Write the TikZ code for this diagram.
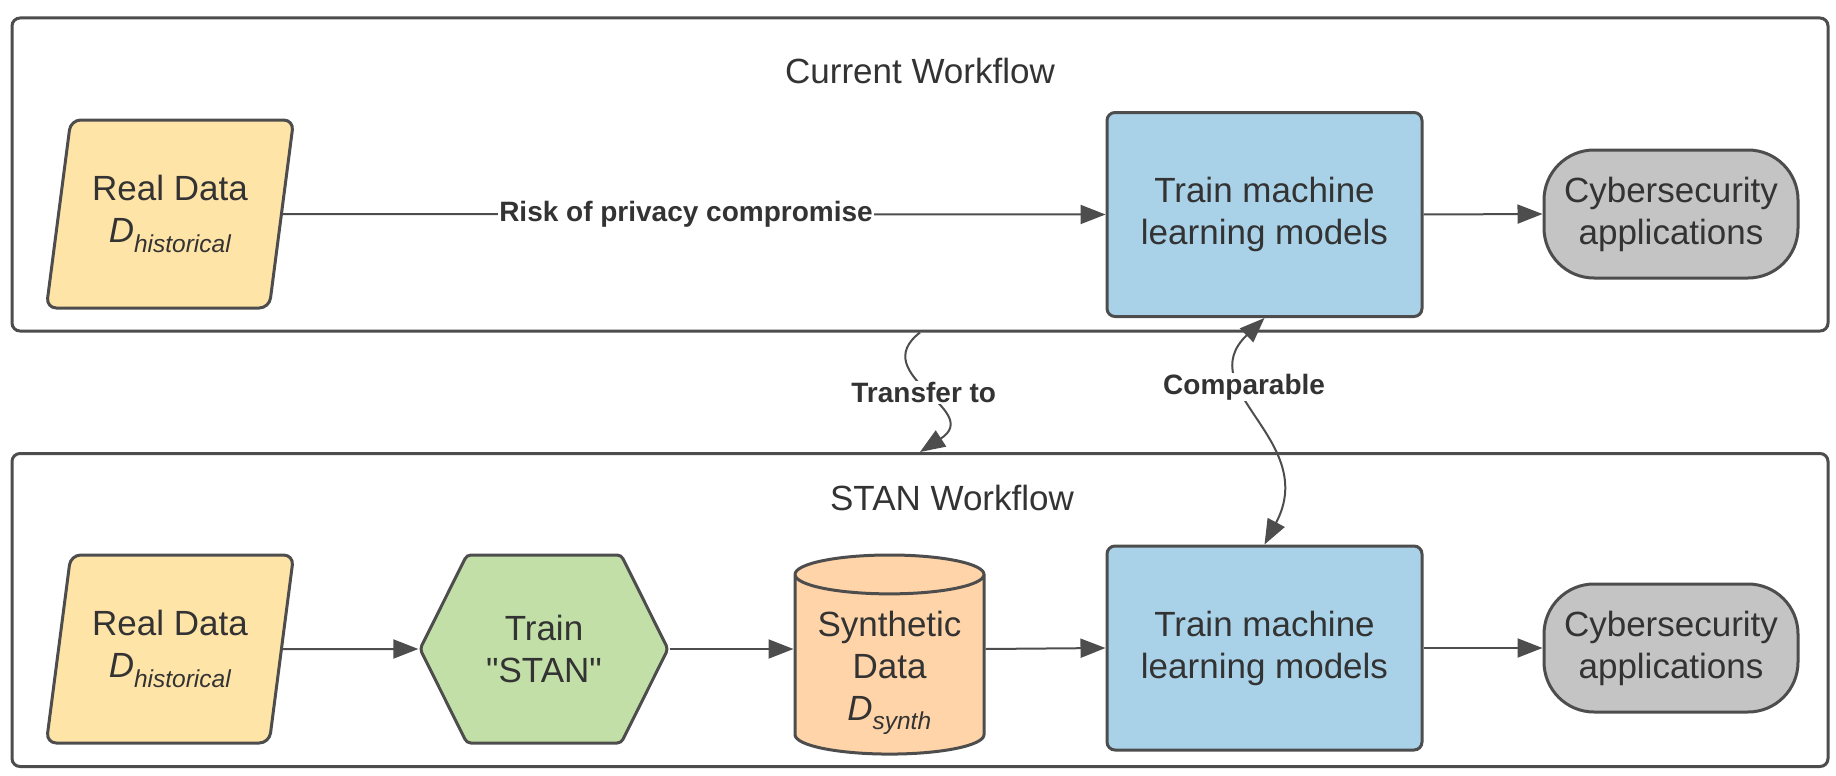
\documentclass[tikz,border=0pt]{standalone}
\usepackage{fontspec}
\setmainfont{Liberation Sans}[Ligatures=TeXOff]
\usetikzlibrary{shapes.geometric,shapes.symbols,arrows.meta}

\definecolor{lineg}{HTML}{4D4D4D}
\definecolor{txtg}{HTML}{333333}
\definecolor{datay}{HTML}{FFE4A8}
\definecolor{stang}{HTML}{C3DFA8}
\definecolor{synth}{HTML}{FFD4A8}
\definecolor{mlblue}{HTML}{A9D2E8}
\definecolor{appg}{HTML}{C4C4C4}

\begin{document}
\begin{tikzpicture}[x=1pt,y=-1pt,
  every node/.style={text=txtg, font=\fontsize{35}{42}\selectfont, align=center},
  frame/.style={draw=lineg, line width=3pt, rounded corners=8pt, inner sep=0pt,
    minimum width=1816pt, minimum height=313pt},
  shp/.style={draw=lineg, line width=3pt, inner sep=0pt},
  realdata/.style={shp, trapezium, trapezium left angle=76, trapezium right angle=104,
    trapezium stretches=true, minimum width=248pt, minimum height=188pt,
    fill=datay, rounded corners=10pt},
  stanhex/.style={shp, signal, signal to=east and west, signal pointer angle=127,
    minimum width=248pt, minimum height=188pt, fill=stang, rounded corners=4pt},
  datacyl/.style={shp, cylinder, shape border rotate=90, aspect=0.27,
    minimum width=189pt, minimum height=188pt, fill=synth},
  mlbox/.style={shp, rectangle, rounded corners=8pt, minimum width=315pt,
    minimum height=204pt, fill=mlblue},
  appbox/.style={shp, rectangle, rounded corners=50pt, minimum width=254pt,
    minimum height=128pt, fill=appg},
  flow/.style={draw=lineg, line width=2pt, -{Triangle[length=25pt,width=19pt]}},
  lbl/.style={fill=white, inner sep=1pt, font=\bfseries\fontsize{28}{33}\selectfont}
]
\useasboundingbox (0,0) rectangle (1836,776);

% current workflow
\node[frame] (curflow) at (920,174.5) {};
\node (curtitle) at (920,71) {Current Workflow};
\node[realdata] (rd1) at (170,214) {Real Data\\\textit{D\textsubscript{historical}}};
\node[mlbox] (ml1) at (1264.5,214.5) {Train machine\\learning models};
\node[appbox] (app1) at (1671,214) {Cybersecurity\\applications};

\draw[flow] (rd1.east) -- node[lbl, pos=0.49] {Risk of privacy compromise} (ml1.west);
\draw[flow] (ml1.east) -- (app1.west);

% STAN workflow
\node[frame] (stanflow) at (920,610) {};
\node (stantitle) at (952,498) {STAN Workflow};
\node[realdata] (rd2) at (170,649) {Real Data\\\textit{D\textsubscript{historical}}};
\node[stanhex] (stan) at (544,649) {Train\\"STAN"};
\node[datacyl] (syn) at (889.5,665)
  {\rule{0pt}{41pt}Synthetic\\Data\\\textit{D\textsubscript{synth}}};
\node[mlbox] (ml2) at (1264.5,648) {Train machine\\learning models};
\node[appbox] (app2) at (1671,648) {Cybersecurity\\applications};

\draw[flow] (rd2.east) -- (stan.west);
\draw[flow] (stan.east) -- (syn.west |- stan.east);
\draw[flow] (syn.east |- stan.east) -- (ml2.west);
\draw[flow] (ml2.east) -- (app2.west);

% between the two
\draw[flow] (curflow.south) .. controls (865,375) and (985,410) ..
  node[lbl, pos=0.5] {Transfer to} (stanflow.north);
\draw[flow, {Triangle[length=25pt,width=19pt]}-{Triangle[length=25pt,width=19pt]}]
  (ml1.south) .. controls (1190,390) and (1320,440) ..
  node[lbl, pos=0.34] {Comparable} (ml2.north);
\end{tikzpicture}
\end{document}
